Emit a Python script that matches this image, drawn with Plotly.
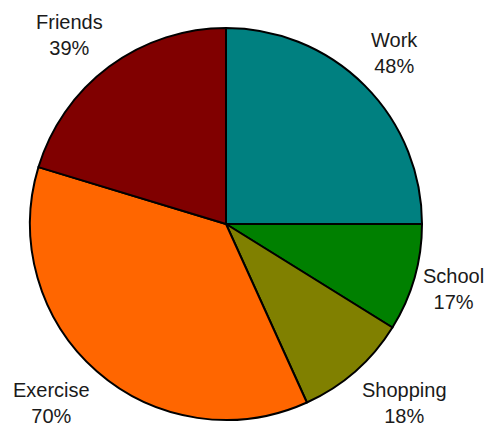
import math
import plotly.graph_objects as go

categories = ["Work", "School", "Shopping", "Exercise", "Friends"]
values = [48, 17, 18, 70, 39]
colors = ["#008080", "#008000", "#808000", "#FF6600", "#800000"]

W, H = 492, 434
OFF = 8                      # browser body margin
cx, cy, r = 226 - OFF, 224 - OFF, 196   # pie centre / radius in figure pixels
LABEL_X = 204                # radial distance of the label's near edge (x)
LABEL_Y = 240                # radial distance of the label's centre (y)
FONT = 20
HALF_BOX = FONT * 1.3        # half height of a two-line label box

fig = go.Figure(go.Pie(
    labels=categories,
    values=values,
    sort=False,
    direction="clockwise",
    rotation=0,
    marker=dict(colors=colors, line=dict(color="black", width=2)),
    textinfo="none",
    showlegend=False,
    hoverinfo="label+value",
    domain=dict(x=[(cx - r) / W, (cx + r) / W],
                y=[(H - cy - r) / H, (H - cy + r) / H]),
))

total = sum(values)
cum = 0
annotations = []
for name, v in zip(categories, values):
    mid = (cum + v / 2) / total * 2 * math.pi   # clockwise from 12 o'clock
    cum += v
    dx, dy = math.sin(mid), math.cos(mid)       # dy positive = up
    ypx = H - cy + LABEL_Y * dy + 1
    ypx = min(ypx, H - HALF_BOX - 1)            # keep label inside the page
    annotations.append(dict(
        text=f"{name}<br>{v}%",
        xref="paper", yref="paper",
        x=(cx + LABEL_X * dx) / W,
        y=ypx / H,
        xanchor="left" if dx > 0 else "right",
        yanchor="middle",
        showarrow=False,
        align="center",
        borderpad=0,
        font=dict(family="Liberation Sans, Arial, sans-serif", size=FONT, color="#1a1a1a"),
    ))

fig.update_layout(
    width=W, height=H,
    margin=dict(l=0, r=0, t=0, b=0),
    paper_bgcolor="white",
    plot_bgcolor="white",
    annotations=annotations,
)

fig.write_html("out.html")
